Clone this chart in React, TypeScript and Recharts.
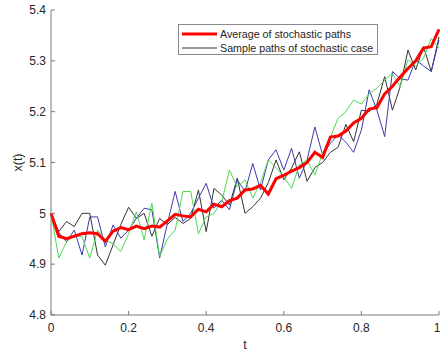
import React from 'react';
import { LineChart, Line, XAxis, YAxis, Legend } from 'recharts';

const tValues = [
  0.0, 0.02, 0.04, 0.06, 0.08, 0.1, 0.12, 0.14, 0.16, 0.18,
  0.2, 0.22, 0.24, 0.26, 0.28, 0.3, 0.32, 0.34, 0.36, 0.38,
  0.4, 0.42, 0.44, 0.46, 0.48, 0.5, 0.52, 0.54, 0.56, 0.58,
  0.6, 0.62, 0.64, 0.66, 0.68, 0.7, 0.72, 0.74, 0.76, 0.78,
  0.8, 0.82, 0.84, 0.86, 0.88, 0.9, 0.92, 0.94, 0.96, 0.98, 1.0,
];

const averagePath = [
  5.0, 4.955, 4.95, 4.955, 4.96, 4.962, 4.96, 4.945, 4.965, 4.972,
  4.968, 4.975, 4.97, 4.975, 4.973, 4.985, 4.998, 4.995, 4.993, 5.008,
  5.003, 5.018, 5.013, 5.025, 5.03, 5.046, 5.048, 5.055, 5.038, 5.068,
  5.075, 5.083, 5.09, 5.1, 5.12, 5.11, 5.15, 5.152, 5.162, 5.178,
  5.187, 5.205, 5.208, 5.235, 5.25, 5.268, 5.285, 5.3, 5.325, 5.328, 5.362,
];

const blackPath = [
  5.0, 4.964, 4.984, 4.974, 5.0, 5.0, 4.918, 4.898, 4.938, 4.978,
  5.012, 4.99, 5.0, 4.955, 4.99, 4.978, 4.992, 4.98, 4.99, 5.046,
  4.964, 5.049, 5.036, 5.016, 5.069, 5.0, 5.013, 5.03, 5.06, 5.105,
  5.066, 5.089, 5.121, 5.063, 5.09, 5.1, 5.12, 5.13, 5.175, 5.141,
  5.203, 5.2, 5.215, 5.269, 5.203, 5.249, 5.321, 5.282, 5.328, 5.279, 5.347,
];

const bluePath = [
  5.0, 4.962, 4.944, 4.967, 4.918, 4.993, 4.993, 4.934, 4.977, 4.951,
  4.967, 4.99, 5.01, 5.007, 4.912, 4.98, 5.043, 4.984, 5.0, 5.03,
  5.059, 5.01, 5.026, 5.007, 5.066, 5.043, 5.098, 5.046, 5.105, 5.125,
  5.085, 5.128, 5.069, 5.105, 5.17, 5.115, 5.138, 5.154, 5.14, 5.12,
  5.164, 5.243, 5.203, 5.151, 5.279, 5.265, 5.262, 5.302, 5.29, 5.279, 5.341,
];

const greenPath = [
  5.0, 4.912, 4.944, 4.957, 4.954, 4.912, 4.967, 4.948, 4.94, 4.925,
  4.96, 5.003, 4.948, 5.02, 4.915, 4.95, 4.967, 5.043, 5.043, 4.96,
  4.993, 5.0, 5.023, 5.085, 5.052, 5.066, 5.03, 5.06, 5.105, 5.09,
  5.072, 5.049, 5.095, 5.105, 5.075, 5.118, 5.15, 5.187, 5.2, 5.223,
  5.215, 5.235, 5.246, 5.262, 5.275, 5.249, 5.302, 5.29, 5.305, 5.344, 5.325,
];

const xTicks = [0, 0.2, 0.4, 0.6, 0.8, 1];
const yTicks = [4.8, 4.9, 5.0, 5.1, 5.2, 5.3, 5.4];

const legendLabels = ['Average of stochastic paths', 'Sample paths of stochastic case'];

const data = tValues.map((t, i) => ({
  t,
  avg: averagePath[i],
  black: blackPath[i],
  blue: bluePath[i],
  green: greenPath[i],
}));

const FONT = '"Liberation Sans", Arial, Helvetica, sans-serif';
const AXIS = '#7a7a7a';
const TEXT = '#262626';

const formatTick = (v: number) => {
  if (v === 0 || v === 1 || v === 5) return String(v);
  return String(Math.round(v * 10) / 10);
};

const renderLegend = () => (
  <div
    style={{
      position: 'relative',
      width: 200,
      height: 31,
      boxSizing: 'border-box',
      border: '1px solid #8a8a8a',
      background: '#fff',
      fontFamily: FONT,
      fontSize: 10.7,
      color: TEXT,
    }}
  >
    {[
      { color: '#ff0000', w: 3, label: legendLabels[0], top: 9 },
      { color: '#333333', w: 1, label: legendLabels[1], top: 23 },
    ].map((r) => (
      <div key={r.label} style={{ position: 'absolute', left: 3, top: r.top - 7, height: 14, display: 'flex', alignItems: 'center' }}>
        <svg width={35} height={14} style={{ display: 'block' }}>
          <line x1={0} x2={35} y1={7} y2={7} stroke={r.color} strokeWidth={r.w} />
        </svg>
        <span style={{ marginLeft: 3, whiteSpace: 'nowrap', lineHeight: '14px' }}>{r.label}</span>
      </div>
    ))}
  </div>
);

export default function App() {
  return (
    <div style={{ width: 440, height: 356, background: '#fff' }}>
      <style>{`body{margin:0;background:#fff}`}</style>
      <LineChart width={440} height={356} data={data} margin={{ top: 10, right: 1, bottom: 0, left: 0 }}>
        <XAxis
          dataKey="t"
          type="number"
          domain={[0, 1]}
          ticks={xTicks}
          tickFormatter={formatTick}
          height={41}
          tickSize={-4}
          tickMargin={12}
          stroke={AXIS}
          tick={{ fill: TEXT, fontSize: 12, fontFamily: FONT }}
          label={{
            content: (props: any) => {
              const vb = props.viewBox || {};
              return (
                <text x={vb.x + vb.width / 2} y={vb.y + 34} textAnchor="middle" fill={TEXT} fontSize={12.5} fontFamily={FONT}>
                  t
                </text>
              );
            },
          }}
        />
        <YAxis
          type="number"
          domain={[4.8, 5.4]}
          ticks={yTicks}
          tickFormatter={formatTick}
          width={51}
          tickSize={-4}
          tickMargin={9}
          stroke={AXIS}
          allowDataOverflow
          tick={{ fill: TEXT, fontSize: 12, fontFamily: FONT }}
          label={{
            content: (props: any) => {
              const vb = props.viewBox || {};
              const cx = vb.x + 22;
              const cy = vb.y + vb.height / 2;
              return (
                <text x={cx} y={cy} transform={`rotate(-90 ${cx} ${cy})`} textAnchor="middle" fill={TEXT} fontSize={12.5} fontFamily={FONT}>
                  x(t)
                </text>
              );
            },
          }}
        />
        <Legend
          layout="horizontal"
          verticalAlign="middle"
          align="center"
          content={renderLegend}
          wrapperStyle={{ left: 178, top: 24, width: 200, height: 31 }}
        />
        <Line dataKey="black" type="linear" stroke="#333333" strokeWidth={1} dot={false} isAnimationActive={false} legendType="none" />
        <Line dataKey="blue" type="linear" stroke="#3b3bb0" strokeWidth={1} dot={false} isAnimationActive={false} legendType="none" />
        <Line dataKey="green" type="linear" stroke="#4fd84f" strokeWidth={1} dot={false} isAnimationActive={false} legendType="none" />
        <Line dataKey="avg" type="linear" stroke="#ff0000" strokeWidth={3} dot={false} isAnimationActive={false} legendType="none" />
      </LineChart>
    </div>
  );
}
